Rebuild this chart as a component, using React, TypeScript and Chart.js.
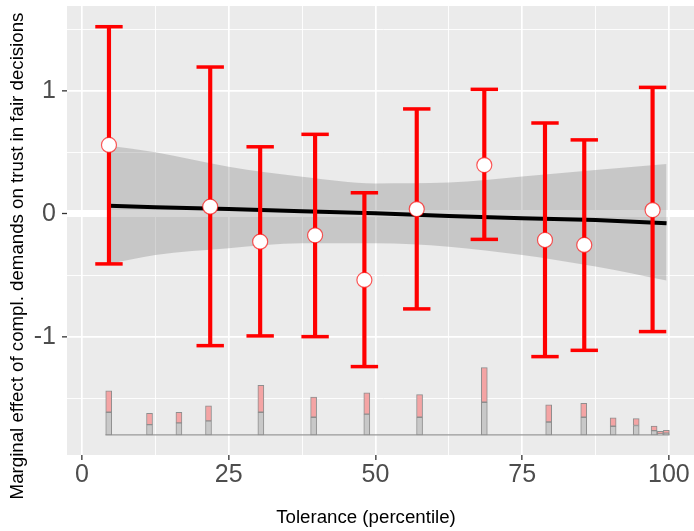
import React, { useEffect, useRef } from 'react';
import { Chart, registerables } from 'chart.js';

Chart.register(...registerables);

// Binned estimates (point + 95% CI)
const binX = [4.6, 21.85, 30.36, 39.72, 48.12, 57.04, 68.55, 78.89, 85.58, 97.22];
const binEstimate = [0.56, 0.059, -0.225, -0.173, -0.535, 0.04, 0.397, -0.211, -0.251, 0.032];
const binUpper = [1.519, 1.192, 0.545, 0.646, 0.172, 0.852, 1.011, 0.738, 0.601, 1.027];
const binLower = [-0.405, -1.068, -0.989, -0.995, -1.238, -0.77, -0.206, -1.157, -1.106, -0.954];

// Linear marginal effect and its confidence band
const fitX = [4.6, 12.5, 25, 37.5, 50, 62.5, 75, 87.5, 99.6];
const fitY = [0.067, 0.054, 0.041, 0.022, 0.006, -0.016, -0.035, -0.049, -0.075];
const fitUpper = [0.555, 0.5, 0.383, 0.302, 0.248, 0.255, 0.303, 0.357, 0.406];
const fitLower = [-0.405, -0.333, -0.278, -0.238, -0.238, -0.265, -0.333, -0.427, -0.54];

// Histogram of the moderator (heights in y-axis units)
const histX = [4.56, 11.51, 16.52, 21.56, 30.48, 39.47, 48.53, 57.52, 68.55, 79.52, 85.49, 90.5, 94.43, 97.48, 98.52, 99.57];
const histControl = [0.184, 0.084, 0.097, 0.114, 0.184, 0.143, 0.168, 0.143, 0.265, 0.105, 0.143, 0.07, 0.076, 0.035, 0.008, 0.014];
const histTreated = [0.173, 0.092, 0.087, 0.121, 0.219, 0.163, 0.173, 0.184, 0.281, 0.138, 0.114, 0.068, 0.056, 0.036, 0.022, 0.024];
const histBase = -1.792;
const histSpan = [4.0, 100.1];

// Axes
const xTicks = [0, 12.5, 25, 37.5, 50, 62.5, 75, 87.5, 100];
const xMajor = [0, 25, 50, 75, 100];
const yTicks = [-1.5, -1, -0.5, 0, 0.5, 1, 1.5];
const yMajor = [-1, 0, 1];
const xTitle = 'Tolerance (percentile)';
const yTitle = 'Marginal effect of compl. demands on trust in fair decisions';

const FONT = "'Liberation Sans', Arial, Helvetica, sans-serif";

export default function App() {
  const ref = useRef<HTMLCanvasElement | null>(null);

  useEffect(() => {
    const canvas = ref.current;
    if (!canvas) return;
    const xy = (xs: number[], ys: number[]) => xs.map((x, i) => ({ x, y: ys[i] }));

    const panelPlugin = {
      id: 'panelPlugin',
      beforeDraw(chart: any) {
        const { ctx, chartArea } = chart;
        ctx.save();
        ctx.fillStyle = '#EBEBEB';
        ctx.fillRect(chartArea.left, chartArea.top, chartArea.right - chartArea.left, chartArea.bottom - chartArea.top);
        ctx.restore();
      },
      afterDraw(chart: any) {
        const { ctx } = chart;
        ctx.save();
        ctx.fillStyle = '#000000';
        ctx.font = `18.7px ${FONT}`;
        ctx.textAlign = 'center';
        ctx.textBaseline = 'middle';
        ctx.fillText(xTitle, 366, 518);
        ctx.translate(18, 256);
        ctx.rotate(-Math.PI / 2);
        ctx.fillText(yTitle, 0, 0);
        ctx.restore();
      },
    };

    const chart = new Chart(canvas, {
      type: 'scatter',
      data: {
        datasets: [
          {
            type: 'scatter',
            label: 'estimate',
            data: xy(binX, binEstimate),
            pointStyle: 'circle',
            pointRadius: 7.5,
            pointBackgroundColor: '#FFFFFF',
            pointBorderColor: 'rgba(255,0,0,0.65)',
            pointBorderWidth: 1.2,
            order: 0,
          },
          {
            type: 'scatter',
            label: 'caps',
            data: [...xy(binX, binUpper), ...xy(binX, binLower)],
            pointStyle: 'line',
            pointRadius: 13.7,
            pointBorderColor: '#FF0000',
            pointBorderWidth: 3.5,
            order: 1,
          },
          {
            type: 'bar',
            label: 'ci',
            data: binX.map((x, i) => ({ x, y: [binLower[i], binUpper[i]] })),
            backgroundColor: '#FF0000',
            borderWidth: 0,
            barThickness: 3.5,
            grouped: false,
            order: 2,
          },
          {
            type: 'bar',
            label: 'treated',
            data: histX.map((x, i) => ({ x, y: [histBase + histControl[i], histBase + histControl[i] + histTreated[i]] })),
            backgroundColor: '#F4A4A4',
            borderColor: '#8E8E8E',
            borderWidth: 1,
            borderSkipped: false,
            barThickness: 6,
            grouped: false,
            order: 3,
          },
          {
            type: 'bar',
            label: 'control',
            data: histX.map((x, i) => ({ x, y: [histBase, histBase + histControl[i]] })),
            backgroundColor: '#C8C8C8',
            borderColor: '#8E8E8E',
            borderWidth: 1,
            borderSkipped: false,
            barThickness: 6,
            grouped: false,
            order: 3,
          },
          {
            type: 'line',
            label: 'baseline',
            data: [{ x: histSpan[0], y: histBase }, { x: histSpan[1], y: histBase }],
            borderColor: '#9A9A9A',
            borderWidth: 1.3,
            pointRadius: 0,
            order: 4,
          },
          {
            type: 'line',
            label: 'fit',
            data: xy(fitX, fitY),
            borderColor: '#000000',
            borderWidth: 4,
            pointRadius: 0,
            order: 5,
          },
          {
            type: 'line',
            label: 'upper',
            data: xy(fitX, fitUpper),
            borderColor: 'rgba(0,0,0,0)',
            borderWidth: 0,
            pointRadius: 0,
            fill: '+1',
            backgroundColor: 'rgba(128,128,128,0.33)',
            cubicInterpolationMode: 'monotone',
            order: 6,
          },
          {
            type: 'line',
            label: 'lower',
            data: xy(fitX, fitLower),
            borderColor: 'rgba(0,0,0,0)',
            borderWidth: 0,
            pointRadius: 0,
            fill: false,
            cubicInterpolationMode: 'monotone',
            order: 6,
          },
        ] as any,
      },
      options: {
        animation: false,
        responsive: false,
        devicePixelRatio: 1,
        layout: { autoPadding: false, padding: { top: 6, left: 0, right: 0, bottom: 0 } },
        plugins: { legend: { display: false }, tooltip: { enabled: false }, title: { display: false } },
        scales: {
          x: {
            type: 'linear',
            min: -2.55,
            max: 105.3,
            offset: false,
            border: { display: false },
            grid: {
              offset: false,
              color: '#FFFFFF',
              lineWidth: (c: any) => (xMajor.includes(c.tick?.value) ? 1.7 : 0.9),
              drawTicks: true,
              tickLength: 5,
              tickWidth: 1.3,
              tickColor: (c: any) => (xMajor.includes(c.tick?.value) ? '#333333' : 'rgba(0,0,0,0)'),
            },
            ticks: {
              autoSkip: false,
              maxRotation: 0,
              padding: 3,
              color: '#4D4D4D',
              font: { family: FONT, size: 25, lineHeight: 1 },
              callback: (v: any) => (xMajor.includes(Number(v)) ? String(v) : ''),
            },
            afterBuildTicks: (scale: any) => {
              scale.ticks = xTicks.map((v) => ({ value: v }));
            },
            afterFit: (scale: any) => {
              scale.height = 76;
              scale.paddingLeft = 0;
              scale.paddingRight = 0;
              scale.paddingTop = 0;
              scale.paddingBottom = 0;
            },
          },
          y: {
            type: 'linear',
            min: -1.955,
            max: 1.687,
            border: { display: false },
            grid: {
              color: '#FFFFFF',
              lineWidth: (c: any) => {
                const v = c.tick?.value;
                if (v === 0) return 7;
                return yMajor.includes(v) ? 1.7 : 0.9;
              },
              drawTicks: true,
              tickLength: 5,
              tickWidth: 1.3,
              tickColor: (c: any) => (yMajor.includes(c.tick?.value) ? '#333333' : 'rgba(0,0,0,0)'),
            },
            ticks: {
              autoSkip: false,
              padding: 6,
              color: '#4D4D4D',
              font: { family: FONT, size: 25, lineHeight: 1 },
              callback: (v: any) => (yMajor.includes(Number(v)) ? String(v) : ''),
            },
            afterBuildTicks: (scale: any) => {
              scale.ticks = yTicks.map((v) => ({ value: v }));
            },
            afterFit: (scale: any) => {
              scale.width = 67;
              scale.paddingLeft = 0;
              scale.paddingRight = 0;
              scale.paddingTop = 0;
              scale.paddingBottom = 0;
            },
          },
        },
      } as any,
      plugins: [panelPlugin],
    });

    return () => chart.destroy();
  }, []);

  return (
    <div style={{ position: 'fixed', left: 0, top: 0, width: 694, height: 531, overflow: 'hidden', background: '#FFFFFF' }}>
      <canvas ref={ref} width={700} height={531} style={{ display: 'block', width: 700, height: 531 }} />
    </div>
  );
}
